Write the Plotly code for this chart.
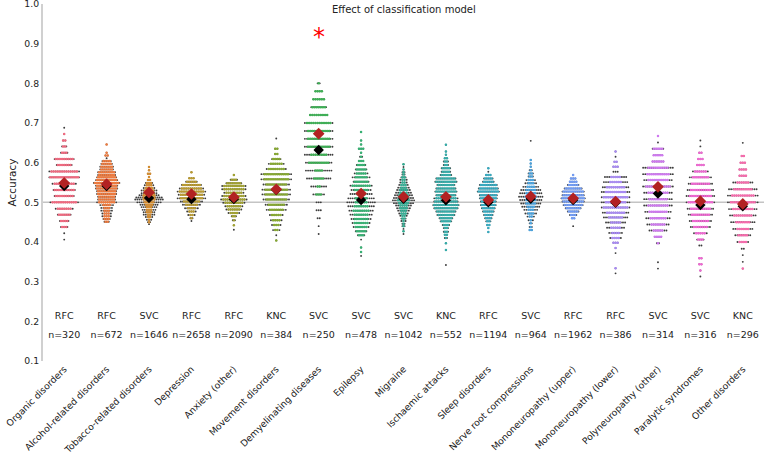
import plotly.graph_objects as go

categories = ["Organic disorders", "Alcohol-related disorders", "Tobacco-related disorders",
              "Depression", "Anxiety (other)", "Movement disorders", "Demyelinating diseases",
              "Epilepsy", "Migraine", "Ischaemic attacks", "Sleep disorders",
              "Nerve root compressions", "Mononeuropathy (upper)", "Mononeuropathy (lower)",
              "Polyneuropathy (other)", "Paralytic syndromes", "Other disorders"]
models = ["RFC", "RFC", "SVC", "RFC", "RFC", "KNC", "SVC", "SVC", "SVC", "KNC", "RFC",
          "SVC", "RFC", "RFC", "SVC", "SVC", "KNC"]
n_samples = [320, 672, 1646, 2658, 2090, 384, 250, 478, 1042, 552, 1194, 964, 1962, 386, 314, 316, 296]
model_mean = [0.549, 0.546, 0.525, 0.521, 0.513, 0.533, 0.673, 0.522, 0.514, 0.514, 0.506,
              0.515, 0.510, 0.502, 0.539, 0.503, 0.496]
all_mean = [0.541, 0.541, 0.511, 0.508, 0.508, 0.531, 0.632, 0.506, 0.509, 0.505, 0.500,
            0.509, 0.506, 0.499, 0.522, 0.493, 0.490]
colors = ["#f06a80", "#ee7b3f", "#d38d32", "#b99a31", "#a1a131", "#86a831", "#3eaf55",
          "#37b173", "#34ae94", "#36aca9", "#38aac0", "#4ba3de", "#729cf4", "#a88af4",
          "#cf79f0", "#ef68d2", "#f66bac"]
y_ticks = [0.1, 0.2, 0.3, 0.4, 0.5, 0.6, 0.7, 0.8, 0.9, 1.0]
star_category = 6
star_value = 0.925

# accuracy levels (rows) of each swarm, with the number of points per row
row_levels = [
    [0.406, 0.422, 0.438, 0.453, 0.469, 0.484, 0.500, 0.516, 0.531, 0.547, 0.563, 0.578, 0.594,
     0.609, 0.625, 0.641, 0.656, 0.672, 0.688],
    [0.451, 0.458, 0.465, 0.472, 0.479, 0.486, 0.493, 0.500, 0.507, 0.514, 0.521, 0.528, 0.535,
     0.542, 0.549, 0.556, 0.563, 0.569, 0.576, 0.583, 0.590, 0.597, 0.604, 0.611, 0.618, 0.625,
     0.646],
    [0.445, 0.450, 0.456, 0.463, 0.469, 0.475, 0.481, 0.488, 0.494, 0.500, 0.507, 0.512, 0.518,
     0.523, 0.530, 0.536, 0.543, 0.549, 0.556, 0.564, 0.572, 0.581, 0.589],
    [0.453, 0.460, 0.468, 0.477, 0.485, 0.494, 0.502, 0.510, 0.519, 0.527, 0.535, 0.544, 0.552,
     0.561, 0.576],
    [0.431, 0.442, 0.455, 0.465, 0.473, 0.482, 0.490, 0.499, 0.507, 0.516, 0.524, 0.533, 0.541,
     0.548, 0.557, 0.569],
    [0.404, 0.417, 0.430, 0.443, 0.455, 0.468, 0.481, 0.494, 0.507, 0.520, 0.532, 0.545, 0.558,
     0.571, 0.584, 0.597, 0.609, 0.622, 0.635, 0.661],
    [0.42, 0.44, 0.46, 0.48, 0.50, 0.52, 0.54, 0.56, 0.58, 0.60, 0.62, 0.64, 0.66, 0.68, 0.70,
     0.72, 0.74, 0.76, 0.78, 0.80],
    [0.365, 0.375, 0.386, 0.406, 0.417, 0.427, 0.438, 0.448, 0.458, 0.469, 0.479, 0.490, 0.500,
     0.510, 0.521, 0.531, 0.542, 0.552, 0.563, 0.573, 0.583, 0.594, 0.604, 0.615, 0.625, 0.635,
     0.646, 0.656, 0.677],
    [0.420, 0.427, 0.433, 0.440, 0.446, 0.453, 0.459, 0.466, 0.472, 0.479, 0.485, 0.492, 0.498,
     0.505, 0.511, 0.518, 0.524, 0.531, 0.537, 0.544, 0.550, 0.557, 0.563, 0.570, 0.576, 0.583,
     0.589, 0.596],
    [0.342, 0.380, 0.397, 0.410, 0.418, 0.426, 0.435, 0.443, 0.452, 0.460, 0.468, 0.477, 0.485,
     0.493, 0.502, 0.510, 0.518, 0.527, 0.535, 0.544, 0.552, 0.560, 0.569, 0.577, 0.586, 0.594,
     0.603, 0.611, 0.620, 0.628, 0.645],
    [0.425, 0.435, 0.443, 0.452, 0.460, 0.468, 0.477, 0.485, 0.493, 0.502, 0.510, 0.518, 0.527,
     0.535, 0.544, 0.552, 0.560, 0.569, 0.577, 0.586],
    [0.430, 0.438, 0.447, 0.455, 0.464, 0.472, 0.481, 0.489, 0.497, 0.506, 0.514, 0.523, 0.531,
     0.539, 0.548, 0.556, 0.565, 0.573, 0.581, 0.590, 0.598, 0.607, 0.655],
    [0.440, 0.460, 0.468, 0.477, 0.485, 0.493, 0.502, 0.510, 0.518, 0.527, 0.535, 0.544, 0.552,
     0.560, 0.569],
    [0.321, 0.334, 0.372, 0.385, 0.398, 0.410, 0.423, 0.436, 0.449, 0.462, 0.474, 0.487, 0.500,
     0.513, 0.526, 0.538, 0.551, 0.564, 0.577, 0.590, 0.602, 0.615, 0.628],
    [0.333, 0.349, 0.397, 0.413, 0.429, 0.444, 0.460, 0.476, 0.492, 0.508, 0.524, 0.540, 0.556,
     0.571, 0.587, 0.603, 0.619, 0.635, 0.651, 0.667],
    [0.313, 0.328, 0.344, 0.359, 0.391, 0.406, 0.422, 0.438, 0.453, 0.469, 0.484, 0.500, 0.516,
     0.531, 0.547, 0.563, 0.578, 0.594, 0.609, 0.625, 0.641, 0.656],
    [0.333, 0.350, 0.367, 0.383, 0.400, 0.417, 0.433, 0.450, 0.467, 0.483, 0.500, 0.517, 0.533,
     0.550, 0.567, 0.583, 0.600, 0.617, 0.650],
]
# points of the selected model in each row
model_counts = [
    [0, 0, 3, 4, 6, 7, 12, 9, 10, 10, 14, 13, 7, 9, 3, 2, 2, 1, 0],
    [2, 3, 3, 3, 3, 3, 4, 8, 8, 8, 9, 9, 10, 10, 12, 10, 9, 8, 8, 6, 6, 5, 4, 0, 2, 1, 1],
    [0, 1, 1, 2, 2, 3, 3, 3, 4, 5, 6, 6, 6, 5, 5, 4, 3, 3, 2, 1, 2, 1, 1],
    [0, 1, 2, 3, 4, 6, 8, 11, 11, 12, 10, 9, 5, 3, 1],
    [0, 1, 1, 2, 4, 6, 7, 9, 11, 10, 8, 10, 10, 7, 3, 1],
    [1, 0, 2, 3, 4, 5, 7, 8, 10, 11, 11, 10, 12, 12, 8, 6, 4, 2, 2, 0],
    [0, 0, 0, 0, 0, 3, 2, 5, 4, 10, 8, 11, 11, 11, 12, 9, 7, 6, 4, 1],
    [0, 1, 1, 0, 3, 5, 6, 7, 7, 7, 8, 7, 6, 6, 5, 7, 9, 7, 6, 5, 5, 4, 3, 1, 1, 3, 1, 1, 1],
    [0, 1, 0, 1, 1, 1, 2, 2, 3, 3, 4, 4, 5, 6, 5, 5, 4, 4, 3, 3, 2, 2, 2, 1, 1, 1, 0, 1],
    [0, 1, 1, 1, 2, 2, 2, 3, 5, 6, 8, 9, 11, 12, 11, 10, 9, 10, 9, 8, 10, 9, 5, 4, 4, 2, 2, 2,
     1, 1, 1],
    [1, 1, 2, 2, 3, 4, 5, 6, 7, 7, 8, 8, 10, 9, 8, 5, 4, 3, 0, 1],
    [2, 1, 1, 1, 2, 3, 3, 4, 5, 5, 6, 5, 5, 4, 3, 3, 2, 2, 1, 1, 1, 1, 0],
    [0, 2, 3, 5, 7, 9, 10, 11, 10, 10, 8, 5, 4, 3, 1],
    [0, 1, 0, 1, 3, 4, 4, 5, 5, 7, 9, 12, 10, 12, 10, 9, 6, 5, 0, 3, 2, 0, 1],
    [0, 0, 1, 4, 5, 7, 8, 9, 10, 9, 10, 12, 10, 11, 10, 6, 5, 5, 0, 1],
    [0, 1, 2, 2, 0, 3, 5, 7, 8, 9, 10, 12, 11, 10, 9, 8, 6, 4, 3, 2, 0, 0],
    [1, 0, 0, 0, 4, 5, 6, 7, 9, 10, 12, 11, 9, 6, 4, 4, 3, 2, 0],
]
# points of all models in each row (drawn beneath)
all_counts = [
    [1, 1, 4, 5, 7, 9, 14, 10, 11, 12, 15, 15, 8, 10, 4, 3, 2, 1, 1],
    [3, 4, 5, 5, 6, 6, 7, 10, 9, 9, 10, 10, 11, 11, 13, 11, 10, 9, 9, 7, 7, 6, 5, 1, 2, 1, 1],
    [1, 2, 3, 4, 6, 6, 7, 8, 9, 12, 14, 13, 10, 8, 8, 6, 5, 4, 2, 1, 2, 1, 1],
    [1, 2, 4, 5, 7, 9, 11, 14, 13, 14, 12, 10, 6, 3, 1],
    [1, 1, 2, 3, 6, 8, 9, 11, 13, 12, 10, 12, 12, 8, 4, 1],
    [1, 1, 4, 5, 6, 7, 10, 11, 13, 14, 14, 13, 15, 15, 10, 8, 5, 2, 2, 1],
    [1, 1, 2, 3, 3, 6, 8, 12, 13, 13, 14, 14, 14, 14, 14, 9, 8, 6, 4, 2],
    [1, 1, 1, 1, 4, 6, 8, 9, 10, 11, 12, 13, 14, 13, 11, 10, 11, 8, 9, 7, 6, 5, 3, 2, 1, 3, 1,
     1, 1],
    [1, 1, 1, 2, 2, 3, 3, 4, 5, 6, 7, 8, 10, 11, 10, 9, 8, 7, 6, 5, 4, 4, 3, 2, 2, 1, 1, 1],
    [1, 1, 1, 2, 2, 3, 3, 4, 6, 7, 9, 10, 12, 13, 12, 12, 10, 11, 10, 9, 11, 10, 6, 5, 5, 3, 3,
     2, 1, 1, 1],
    [1, 1, 2, 3, 4, 5, 6, 7, 8, 8, 9, 9, 11, 10, 9, 6, 5, 3, 1, 1],
    [2, 2, 2, 3, 4, 6, 7, 9, 10, 11, 12, 11, 10, 8, 6, 5, 3, 3, 2, 1, 1, 1, 1],
    [1, 2, 4, 6, 8, 10, 11, 12, 11, 11, 9, 6, 4, 3, 1],
    [1, 1, 1, 1, 3, 6, 7, 9, 10, 12, 13, 14, 14, 14, 14, 13, 12, 11, 3, 3, 2, 1, 1],
    [1, 1, 2, 4, 9, 11, 12, 13, 14, 14, 14, 15, 14, 15, 15, 6, 5, 6, 1, 1],
    [1, 1, 2, 2, 2, 4, 7, 10, 11, 12, 13, 14, 14, 13, 12, 11, 8, 4, 3, 2, 1, 1],
    [1, 1, 1, 2, 6, 8, 10, 12, 13, 14, 15, 15, 14, 10, 4, 4, 3, 2, 1],
]

FONT = "DejaVu Sans"
TXT = "#222222"
DX = 0.05  # horizontal spacing of swarm points (category units)

gx, gy, cx, cy, cc = [], [], [], [], []
for i in range(len(categories)):
    assert len(row_levels[i]) == len(model_counts[i]) == len(all_counts[i]), i
    for v, g, c in zip(row_levels[i], all_counts[i], model_counts[i]):
        for j in range(g):
            gx.append(i + (j - (g - 1) / 2) * DX)
            gy.append(v)
        for j in range(c):
            cx.append(i + (j - (c - 1) / 2) * DX)
            cy.append(v)
            cc.append(colors[i])

idx = list(range(len(categories)))
fig = go.Figure()
fig.add_trace(go.Scatter(x=gx, y=gy, mode="markers",
                         marker=dict(size=1.9, color="#3c3c3c", line=dict(width=0)),
                         hoverinfo="skip"))
fig.add_trace(go.Scatter(x=cx, y=cy, mode="markers",
                         marker=dict(size=2.5, color=cc, line=dict(width=0)),
                         hoverinfo="skip"))
fig.add_trace(go.Scatter(x=idx, y=all_mean, mode="markers",
                         marker=dict(symbol="diamond", size=8, color="black", line=dict(width=0))))
fig.add_trace(go.Scatter(x=idx, y=model_mean, mode="markers",
                         marker=dict(symbol="diamond", size=9, color="#b22222", line=dict(width=0))))
fig.add_trace(go.Scatter(x=idx, y=[0.212] * len(idx), mode="text", text=models,
                         textfont=dict(family=FONT, size=9.5, color=TXT)))
fig.add_trace(go.Scatter(x=idx, y=[0.163] * len(idx), mode="text",
                         text=["n=%d" % n for n in n_samples],
                         textfont=dict(family=FONT, size=9.5, color=TXT)))

fig.add_shape(type="line", xref="x", yref="y", x0=-0.5, x1=16.5, y0=0.5, y1=0.5,
              line=dict(color="#c4c4c4", width=1.5), layer="below")

fig.add_annotation(x=star_category, y=star_value, xref="x", yref="y", text="*",
                   showarrow=False, yshift=-3,
                   font=dict(family=FONT, size=24, color="red"))
fig.add_annotation(x=0.5, y=1, xref="paper", yref="paper", text="Effect of classification model",
                   showarrow=False, yanchor="top", yshift=2,
                   font=dict(family=FONT, size=10, color=TXT))

fig.update_layout(
    width=764, height=454, margin=dict(l=43, r=0, t=4, b=93),
    plot_bgcolor="white", paper_bgcolor="white", showlegend=False,
    font=dict(family=FONT, size=10, color=TXT),
    xaxis=dict(range=[-0.5, 16.5], tickmode="array", tickvals=idx, ticktext=categories,
               tickangle=-45, showgrid=False, zeroline=False, showline=False, ticks="",
               automargin=False, ticklabeloverflow="allow",
               tickfont=dict(family=FONT, size=9.2, color="#1a1a1a")),
    yaxis=dict(range=[0.1, 1.0], tickmode="array", tickvals=y_ticks,
               ticktext=["%.1f" % t for t in y_ticks], showgrid=False, automargin=False,
               ticklabeloverflow="allow",
               zeroline=False, showline=True, linecolor="#d0d0d0", linewidth=2, ticks="",
               tickfont=dict(family=FONT, size=9.3, color=TXT),
               title=dict(text="Accuracy", standoff=6,
                          font=dict(family=FONT, size=10.5, color=TXT))),
)

fig.write_html("out.html")
